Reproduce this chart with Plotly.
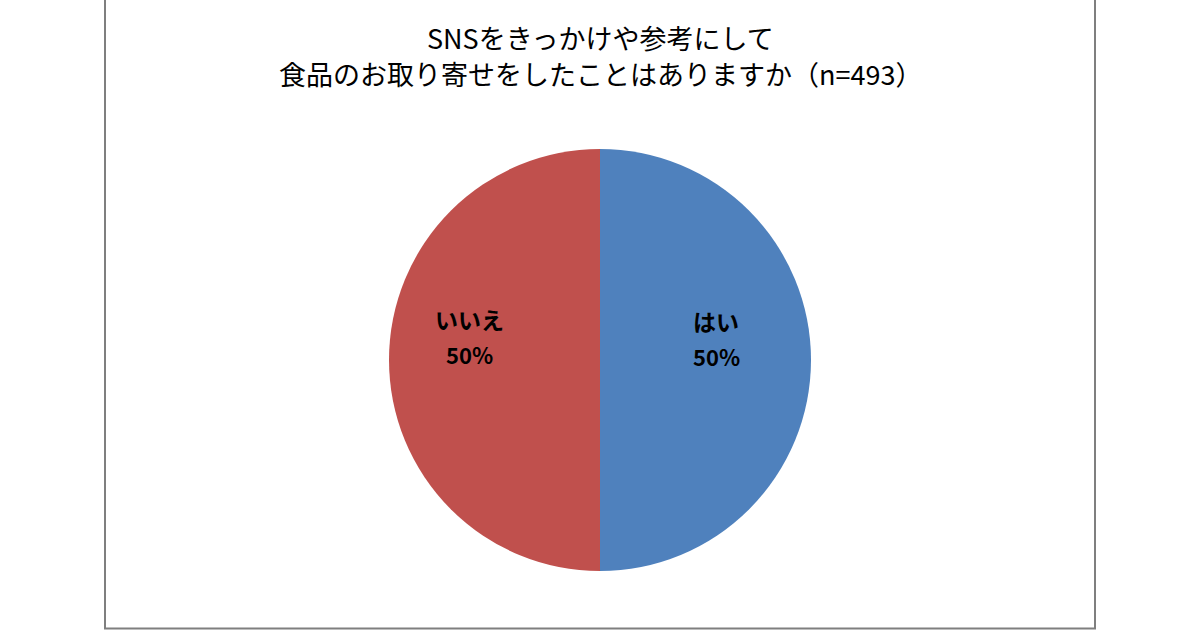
import math
import plotly.graph_objects as go

labels = ["はい", "いいえ"]
values = [50, 50]
colors = ["#4F81BD", "#C0504D"]
title_lines = ["SNSをきっかけや参考にして", "食品のお取り寄せをしたことはありますか（n=493）"]

W, H = 1200, 630
cx, cy, r = 600, 360, 211
LABEL_RADIUS = {"はい": 0.56, "いいえ": 0.63}

fig = go.Figure(go.Pie(
    labels=labels,
    values=values,
    sort=False,
    direction="clockwise",
    rotation=0,
    marker=dict(colors=colors, line=dict(color="#FFFFFF", width=0)),
    textinfo="none",
    showlegend=False,
    hoverinfo="label+percent",
    domain=dict(x=[(cx - r) / W, (cx + r) / W], y=[1 - (cy + r) / H, 1 - (cy - r) / H]),
))

annotations = []
title_y = [37, 73]
for line, ty in zip(title_lines, title_y):
    annotations.append(dict(text=line, x=0.5, y=1 - ty / H, xref="paper", yref="paper",
                            xanchor="center", yanchor="middle", showarrow=False,
                            font=dict(family="Noto Sans CJK JP", size=27, color="#000000")))

# slice labels: placed along each slice's mid angle (clockwise from 12 o'clock)
total = sum(values)
start = 0.0
for lab, v in zip(labels, values):
    frac = v / total
    mid = (start + frac / 2) * 2 * math.pi - math.radians(10) * (1 if start < 0.5 else -1)
    start += frac
    rr = LABEL_RADIUS[lab] * r
    px = cx + rr * math.sin(mid)
    py = cy - rr * math.cos(mid)
    pct = f"{round(frac * 100)}%"
    annotations.append(dict(text=f"<b>{lab}</b>", x=px / W, y=1 - (py - 18) / H, xref="paper", yref="paper",
                            xanchor="center", yanchor="middle", showarrow=False,
                            font=dict(family="Noto Sans CJK JP", size=23, color="#000000")))
    annotations.append(dict(text=f"<b>{pct}</b>", x=px / W, y=1 - (py + 17) / H, xref="paper", yref="paper",
                            xanchor="center", yanchor="middle", showarrow=False,
                            font=dict(family="Noto Sans CJK JP", size=22, color="#000000")))

fig.update_layout(
    width=W, height=H,
    margin=dict(l=0, r=0, t=0, b=0),
    paper_bgcolor="#FFFFFF",
    plot_bgcolor="#FFFFFF",
    annotations=annotations,
    shapes=[
        dict(type="rect", xref="paper", yref="paper",
             x0=105 / W, x1=1095 / W, y0=1.5 / H, y1=1 + 1 / H,
             line=dict(color="#7F7F7F", width=2), fillcolor="rgba(0,0,0,0)"),
    ],
)

fig.write_html("out.html", config={"displayModeBar": False},
               post_script="document.body.style.margin='0';document.body.style.overflow='hidden';")
